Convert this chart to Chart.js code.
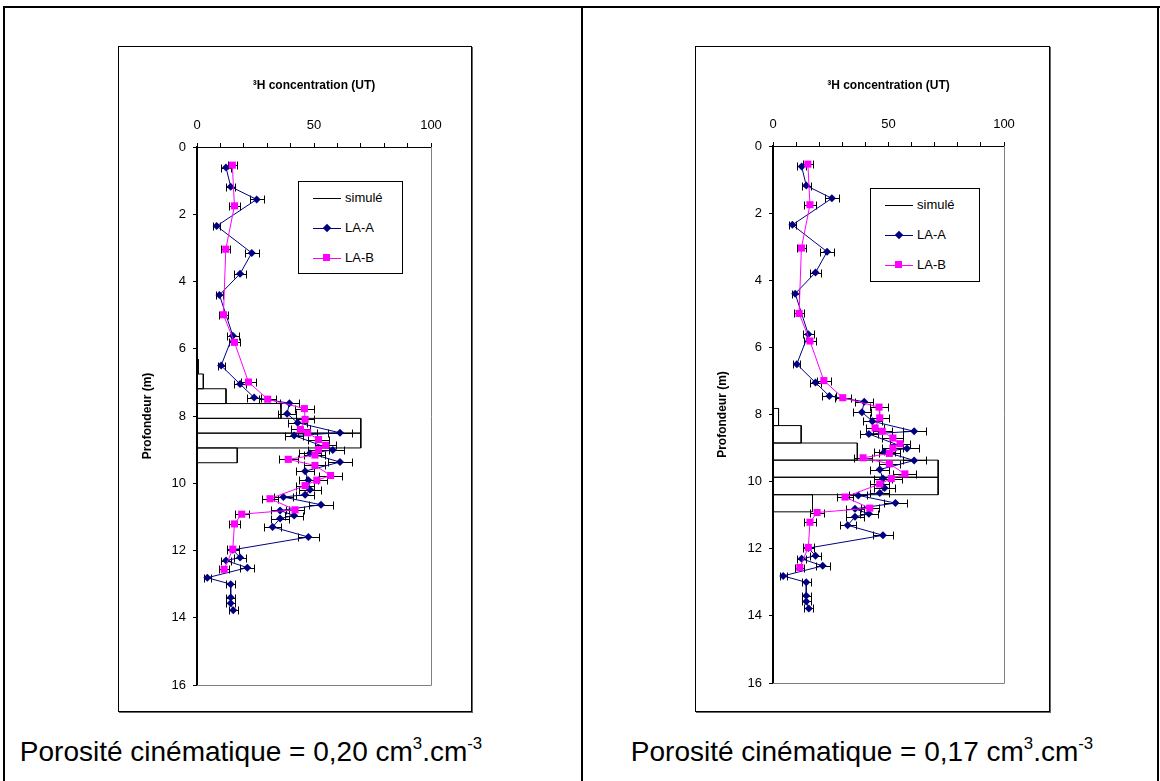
<!DOCTYPE html>
<html>
<head>
<meta charset="utf-8">
<script src="https://cdn.jsdelivr.net/npm/chart.js@4.4.1/dist/chart.umd.min.js"></script>
<style>
    body { margin: 0; width: 1160px; height: 781px; position: relative; background: #fff; overflow: hidden;
           font-family: "Liberation Sans", Arial, sans-serif; }
    .rule { position: absolute; background: #000; }
    .frame { position: absolute; border: 1px solid #000; box-shadow: 1px 1px 0 #666; background: #fff; }
    .frame canvas { position: absolute; left: 0; top: 0; }
    .legend { position: absolute; border: 1px solid #000; background: #fff; font-size: 13px; color: #000; }
    .item { position: absolute; left: 0; width: 100%; height: 16px; }
    .item .ln { position: absolute; left: 14px; top: 8px; width: 28px; border-top: 1px solid #000; }
    .item .mk { position: absolute; }
    .item span { position: absolute; left: 46px; top: 0; line-height: 16px; }
    .caption { position: absolute; font-size: 28px; line-height: 1; white-space: nowrap; transform: translateX(-50%); }
    .caption sup { font-size: 0.6em; line-height: 0; vertical-align: 0.7em; }
</style>
</head>
<body>

<div class="rule" style="left:3px; top:6px; width:1157px; height:2px;"></div>
<div class="rule" style="left:3px; top:6px; width:2px; height:775px;"></div>
<div class="rule" style="left:581px; top:6px; width:2px; height:775px;"></div>
<div class="rule" style="left:1157px; top:6px; width:2px; height:775px;"></div>

<div class="frame" style="left:118px; top:46px; width:352px; height:664px;"><canvas id="chart20" width="352" height="664"></canvas></div>
<div class="frame" style="left:695px; top:46px; width:353px; height:664px;"><canvas id="chart17" width="353" height="664"></canvas></div>

<div class="legend" id="legend20" style="left:298px; top:181px; width:103px; height:91px;"></div>
<div class="legend" id="legend17" style="left:870px; top:188px; width:108px; height:92px;"></div>

<div class="caption" style="left:251px; top:738px;">Porosité cinématique = 0,20 cm<sup>3</sup>.cm<sup>-3</sup></div>
<div class="caption" style="left:862px; top:738px;">Porosité cinématique = 0,17 cm<sup>3</sup>.cm<sup>-3</sup></div>

<script>
// profondeur (m) / concentration 3H (UT) / incertitude (UT)
const depthA = [0.61, 1.18, 1.56, 2.35, 3.15, 3.77, 4.40, 5.61, 6.50, 7.05, 7.45, 7.62, 7.93, 8.20, 8.50, 8.58,
    9.01, 9.11, 9.37, 9.64, 9.91, 10.19, 10.34, 10.41, 10.64, 10.81, 10.96, 11.05, 11.30, 11.60, 11.98, 12.21,
    12.30, 12.51, 12.81, 13.00, 13.40, 13.57, 13.78];
const valueA = [12.4, 14.4, 25.5, 8.4, 23.4, 18.4, 9.6, 15.3, 10.3, 18.4, 24.4, 39.5, 38.5, 43, 61.1, 41.5,
    58, 48.3, 61.1, 46.2, 47.6, 48.3, 46.2, 36.9, 53, 35.5, 41.5, 35.5, 32.3, 47.6, 15.3, 18.4,
    12.4, 21.5, 4.4, 14.4, 14.4, 14.4, 15.5];
const errA = [2, 2, 3, 1.5, 3, 2.5, 1.5, 2.5, 1.5, 2.5, 3, 4, 4, 4, 5, 4,
    5, 4.5, 5, 4, 4, 4.5, 4, 4, 5, 4, 4, 4, 3.5, 4.5, 2.5, 2.5,
    2, 3, 1.5, 2, 2, 2, 2];

const depthB = [0.54, 1.75, 3.04, 4.99, 5.81, 6.99, 7.50, 7.78, 8.10, 8.40, 8.50, 8.70, 8.87, 9.00, 9.16, 9.29,
    9.47, 9.77, 9.91, 10.07, 10.46, 10.79, 10.92, 11.21, 11.96, 12.56];
const valueB = [15.1, 16, 12.3, 11.3, 16, 22, 30.2, 45.9, 46.2, 44.2, 47.3, 51.9, 55, 51.9, 50.4, 39,
    50.4, 57.1, 51.2, 46.2, 31.2, 41.9, 19.1, 16, 15.3, 11.6];
const errB = [2, 2.5, 2, 2, 2.5, 3, 3.5, 4, 4, 4, 4, 4.5, 4.5, 4.5, 4.5, 4,
    4.5, 5, 4.5, 4, 3.5, 4, 3, 2.5, 2.5, 2];

// simulé : limites des mailles (m) et concentrations
const simEdges20 = [6.31, 6.75, 7.19, 7.63, 8.07, 8.51, 8.95, 9.39];
const simValues20 = [0.5, 2.7, 12.4, 35.9, 70, 70, 17.2];
const simEdges17 = [7.31, 7.82, 8.33, 8.85, 9.36, 9.87, 10.39, 10.9];
const simValues17 = [0.3, 2.4, 12.2, 36.5, 71.5, 71.5, 17.1];

const xTicks = [0, 10, 20, 30, 40, 50, 60, 70, 80, 90, 100];
const xLabels = [0, 50, 100];
const yTicks = [0, 2, 4, 6, 8, 10, 12, 14, 16];

const NAVY = '#000080';
const MAGENTA = '#FF00FF';

function simPath(edges, values) {
    const pts = [];
    values.forEach((v, i) => {
        pts.push({ x: 0, y: edges[i] }, { x: v, y: edges[i] }, { x: v, y: edges[i + 1] }, { x: 0, y: edges[i + 1] });
    });
    return pts;
}

function toPoints(depths, values) {
    return depths.map((d, i) => ({ x: values[i], y: d }));
}

// barres d'erreur horizontales, dessinées juste après la courbe simulée
const errorBars = {
    id: 'errorBars',
    afterDatasetDraw(chart, args) {
        if (chart.data.datasets[args.index].label !== 'simulé') return;
        const xs = chart.scales.x, ys = chart.scales.y, ctx = chart.ctx;
        ctx.save();
        ctx.strokeStyle = '#000';
        ctx.lineWidth = 1;
        chart.data.datasets.forEach((ds) => {
            if (!ds.errors) return;
            ds.data.forEach((p, i) => {
                const e = ds.errors[i];
                const py = Math.round(ys.getPixelForValue(p.y)) + 0.5;
                const x1 = Math.round(xs.getPixelForValue(p.x - e)) + 0.5;
                const x2 = Math.round(xs.getPixelForValue(p.x + e)) + 0.5;
                ctx.beginPath();
                ctx.moveTo(x1, py); ctx.lineTo(x2, py);
                ctx.moveTo(x1, py - 4); ctx.lineTo(x1, py + 4);
                ctx.moveTo(x2, py - 4); ctx.lineTo(x2, py + 4);
                ctx.stroke();
            });
        });
        ctx.restore();
    }
};

// bords droit et bas de la zone de tracé
const plotFrame = {
    id: 'plotFrame',
    beforeDatasetsDraw(chart) {
        const { ctx, chartArea: a } = chart;
        ctx.save();
        ctx.strokeStyle = '#808080';
        ctx.lineWidth = 1;
        ctx.beginPath();
        ctx.moveTo(a.left, Math.round(a.bottom) + 0.5);
        ctx.lineTo(Math.round(a.right) + 0.5, Math.round(a.bottom) + 0.5);
        ctx.lineTo(Math.round(a.right) + 0.5, a.top);
        ctx.stroke();
        ctx.restore();
    }
};

function makeChart(id, edges, values, box) {
    const ctx = document.getElementById(id).getContext('2d');
    return new Chart(ctx, {
        type: 'scatter',
        data: {
            datasets: [
                {
                    label: 'LA-B',
                    data: toPoints(depthB, valueB),
                    errors: errB,
                    showLine: true,
                    borderColor: MAGENTA,
                    backgroundColor: MAGENTA,
                    borderWidth: 1,
                    pointStyle: 'rect',
                    pointRadius: 5,
                    pointBorderWidth: 0,
                },
                {
                    label: 'LA-A',
                    data: toPoints(depthA, valueA),
                    errors: errA,
                    showLine: true,
                    borderColor: NAVY,
                    backgroundColor: NAVY,
                    borderWidth: 1,
                    pointStyle: 'rectRot',
                    pointRadius: 4,
                    pointBorderWidth: 0,
                },
                {
                    label: 'simulé',
                    data: simPath(edges, values),
                    showLine: true,
                    borderColor: '#000',
                    borderWidth: 1,
                    pointRadius: 0,
                },
            ],
        },
        options: {
            responsive: false,
            animation: false,
            devicePixelRatio: 1,
            layout: { padding: { left: 0, top: 0, right: box.right, bottom: box.bottom } },
            plugins: { legend: { display: false }, tooltip: { enabled: false } },
            scales: {
                x: {
                    type: 'linear',
                    position: 'top',
                    min: 0,
                    max: 100,
                    afterBuildTicks: (s) => { s.ticks = xTicks.map((v) => ({ value: v })); },
                    afterFit: (s) => { s.height = box.top; },
                    ticks: {
                        autoSkip: false,
                        maxRotation: 0,
                        padding: 10,
                        color: '#000',
                        font: { family: 'Liberation Sans', size: 13 },
                        callback: (v) => (xLabels.includes(v) ? v : ''),
                    },
                    grid: { drawOnChartArea: false, tickLength: 4, color: '#000' },
                    border: { color: '#000', width: 1 },
                    title: {
                        display: true,
                        text: '³H concentration (UT)',
                        color: '#000',
                        font: { family: 'Liberation Sans', size: 12, weight: 'bold' },
                        padding: { top: 31, bottom: 0 },
                    },
                },
                y: {
                    type: 'linear',
                    reverse: true,
                    min: 0,
                    max: 16,
                    afterBuildTicks: (s) => { s.ticks = yTicks.map((v) => ({ value: v })); },
                    afterFit: (s) => { s.width = box.left; },
                    ticks: {
                        padding: 7,
                        color: '#000',
                        font: { family: 'Liberation Sans', size: 13 },
                    },
                    grid: { drawOnChartArea: false, tickLength: 4, color: '#000' },
                    border: { color: '#000', width: 2 },
                    title: {
                        display: true,
                        text: 'Profondeur (m)',
                        color: '#000',
                        font: { family: 'Liberation Sans', size: 12, weight: 'bold' },
                        padding: { top: box.titleX, bottom: 0 },
                    },
                },
            },
        },
        plugins: [plotFrame, errorBars],
    });
}

function makeLegend(id) {
    const el = document.getElementById(id);
    const items = [
        { text: 'simulé', color: '#000', marker: null },
        { text: 'LA-A', color: NAVY, marker: 'diamond' },
        { text: 'LA-B', color: MAGENTA, marker: 'square' },
    ];
    items.forEach((it, i) => {
        const row = document.createElement('div');
        row.className = 'item';
        row.style.top = (8 + i * 30) + 'px';
        let html = '<div class="ln" style="border-color:' + it.color + '"></div>';
        if (it.marker === 'diamond') {
            html += '<div class="mk" style="left:25px;top:5px;width:6px;height:6px;background:' + it.color + ';transform:rotate(45deg)"></div>';
        } else if (it.marker === 'square') {
            html += '<div class="mk" style="left:24px;top:4px;width:7px;height:7px;background:' + it.color + '"></div>';
        }
        html += '<span>' + it.text + '</span>';
        row.innerHTML = html;
        el.appendChild(row);
    });
}

makeChart('chart20', simEdges20, simValues20, { left: 78, top: 100, right: 40, bottom: 26, titleX: 21 });
makeChart('chart17', simEdges17, simValues17, { left: 77, top: 99, right: 45, bottom: 28, titleX: 19 });
makeLegend('legend20');
makeLegend('legend17');
</script>
</body>
</html>
